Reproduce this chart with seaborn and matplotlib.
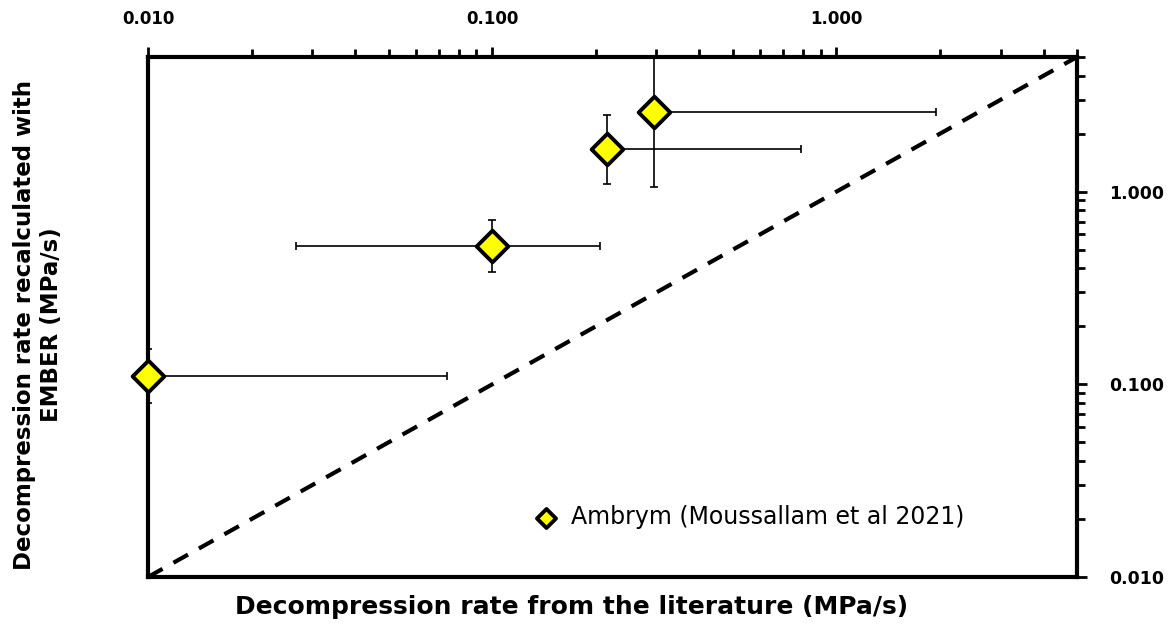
import numpy as np
import pandas as pd
import matplotlib.pyplot as plt
import matplotlib.ticker as mticker
import seaborn as sns

# Decompression rates (MPa/s)
lit_rate = [0.01, 0.1, 0.215, 0.295]
ember_rate = [0.11, 0.525, 1.67, 2.6]
lit_low = [0.01, 0.027, 0.215, 0.295]
lit_high = [0.074, 0.205, 0.79, 1.95]
ember_low = [0.080, 0.385, 1.09, 1.06]
ember_high = [0.152, 0.716, 2.5, 8.0]
one_to_one = [0.01, 5.0]

label = "Ambrym (Moussallam et al 2021)"

sns.set_theme(style="white", rc={"text.color": "black", "axes.labelcolor": "black",
                                 "xtick.color": "black", "ytick.color": "black"})
plt.rcParams['font.family'] = ['DejaVu Sans']

df = pd.DataFrame({"lit": lit_rate, "ember": ember_rate})

fig = plt.figure(figsize=(11.73, 6.3), dpi=100)
ax = fig.add_axes([148 / 1173, 1 - 577 / 630, (1077 - 148) / 1173, (577 - 57) / 630])

x = np.array(lit_rate)
y = np.array(ember_rate)
xerr = [x - np.array(lit_low), np.array(lit_high) - x]
yerr = [y - np.array(ember_low), np.array(ember_high) - y]
ax.errorbar(x, y, xerr=xerr, yerr=yerr, fmt='none', ecolor='black',
            elinewidth=1.2, capsize=3, capthick=1.2, zorder=2)

# 1:1 line
ax.plot(one_to_one, one_to_one, color='black', lw=3, ls=(0, (4, 3)), zorder=1)

sns.scatterplot(data=df, x="lit", y="ember", ax=ax, marker='D', s=260,
                color='#FFFF00', edgecolor='black', linewidth=2.8,
                zorder=4, clip_on=False, label=label)

ax.set_xscale('log')
ax.set_yscale('log')
ax.set_xlim(0.01, 5)
ax.set_ylim(0.01, 5)

ax.xaxis.tick_top()
ax.yaxis.tick_right()
fmt = mticker.FormatStrFormatter('%.3f')
ax.xaxis.set_major_formatter(fmt)
ax.yaxis.set_major_formatter(fmt)
ax.xaxis.set_major_locator(mticker.LogLocator(base=10, numticks=10))
ax.yaxis.set_major_locator(mticker.LogLocator(base=10, numticks=10))
ax.xaxis.set_minor_locator(mticker.LogLocator(base=10, subs=np.arange(2, 10), numticks=20))
ax.yaxis.set_minor_locator(mticker.LogLocator(base=10, subs=np.arange(2, 10), numticks=20))
ax.xaxis.set_minor_formatter(mticker.NullFormatter())
ax.yaxis.set_minor_formatter(mticker.NullFormatter())
ax.tick_params(axis='both', which='both', direction='out', color='black', width=2,
               bottom=False, left=False)
ax.tick_params(axis='x', which='both', top=True, labeltop=True, labelbottom=False)
ax.tick_params(axis='y', which='both', right=True, labelright=True, labelleft=False)
ax.tick_params(which='major', length=7, pad=14)
ax.tick_params(which='minor', length=6)
ax.tick_params(axis='x', which='major', labelsize=12)
ax.tick_params(axis='y', which='major', labelsize=12.5, pad=16)
for t in ax.get_xticklabels() + ax.get_yticklabels():
    t.set_fontweight('bold')

for s in ax.spines.values():
    s.set_visible(True)
    s.set_color('black')
    s.set_linewidth(3)

ax.set_xlabel("Decompression rate from the literature (MPa/s)",
              fontsize=18, fontweight='bold')
ax.set_ylabel("Decompression rate recalculated with\nEMBER (MPa/s)",
              fontsize=16.5, fontweight='bold')
ax.yaxis.set_label_position('left')
ax.xaxis.set_label_position('bottom')
ax.xaxis.set_label_coords(0.456, -0.035)
ax.yaxis.set_label_coords(-0.092, 0.485)

ax.legend(loc='center left', bbox_to_anchor=(0.38, 0.115), frameon=False,
          fontsize=17, handletextpad=0.05, markerscale=0.6)

fig.savefig("out.png", dpi=100)
